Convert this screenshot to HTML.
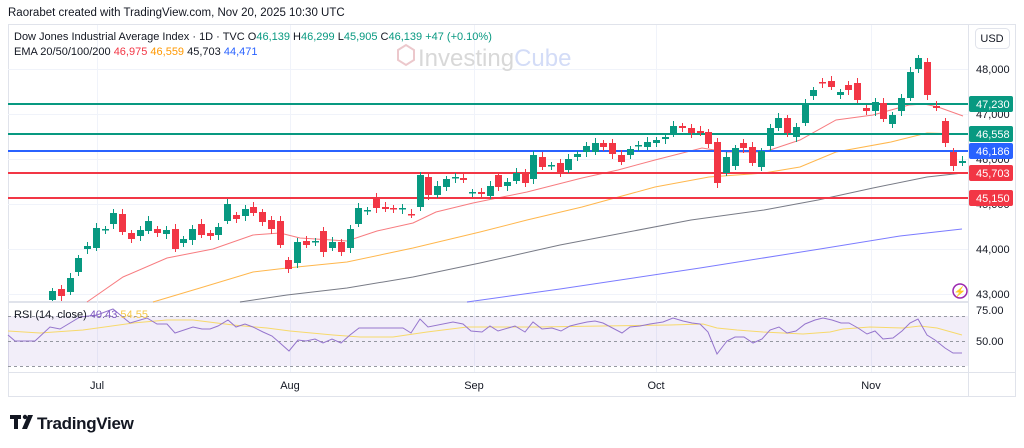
<!DOCTYPE html>
<html><head><meta charset="utf-8"><style>
body{margin:0;background:#fff;width:1024px;height:448px;overflow:hidden;font-family:"Liberation Sans",sans-serif}
svg{position:absolute;left:0;top:0}
</style></head><body>
<svg id="s" width="1024" height="448" viewBox="0 0 1024 448" font-family="Liberation Sans, sans-serif">
<rect x="0" y="0" width="1024" height="448" fill="#fff"/>
<text x="8" y="16" font-size="11.5" fill="#131722">Raorabet created with TradingView.com, Nov 20, 2025 10:30 UTC</text>
<rect x="8.5" y="24.5" width="1007" height="372" fill="none" stroke="#e0e3eb"/>
<line x1="8" y1="302" x2="968" y2="302" stroke="#e0e3eb" stroke-width="2"/>
<line x1="968.5" y1="25" x2="968.5" y2="396" stroke="#e0e3eb"/>
<line x1="8" y1="372.5" x2="1016" y2="372.5" stroke="#e0e3eb"/>
<g id="grid" stroke="#f0f3fa"></g>
<rect x="8" y="316" width="960" height="50" fill="#7e57c2" fill-opacity="0.1"/>
<g stroke="#9598a1" stroke-dasharray="3,3" stroke-width="1">
<line x1="8" y1="316.5" x2="968" y2="316.5"/><line x1="8" y1="341.5" x2="968" y2="341.5"/><line x1="8" y1="366.5" x2="968" y2="366.5"/></g>
<polygon points="398,50 406,45 414,50 414,60 406,65 398,60" fill="none" stroke="#ecc8cc" stroke-width="2"/>
<text x="418" y="66" font-size="24" fill="#d8d8d8">Investing<tspan fill="#d3dcf7">Cube</tspan></text>
<g id="ema"></g>
<g id="hl" stroke-width="2">
<line x1="8" y1="104" x2="968" y2="104" stroke="#089981"/>
<line x1="8" y1="134" x2="968" y2="134" stroke="#089981"/>
<line x1="8" y1="151" x2="968" y2="151" stroke="#2962ff"/>
<line x1="8" y1="173" x2="968" y2="173" stroke="#f23645"/>
<line x1="8" y1="198" x2="968" y2="198" stroke="#f23645"/>
</g>
<g id="c"></g>
<g id="rsi" fill="none"></g>
<g font-size="11" fill="#131722">
<text x="14" y="40">Dow Jones Industrial Average Index · 1D · TVC <tspan>O</tspan><tspan fill="#089981">46,139</tspan> H<tspan fill="#089981">46,299</tspan> L<tspan fill="#089981">45,905</tspan> C<tspan fill="#089981">46,139</tspan> <tspan fill="#089981">+47 (+0.10%)</tspan></text>
<text x="14" y="55">EMA 20/50/100/200 <tspan fill="#f23645">46,975</tspan> <tspan fill="#ff9800">46,559</tspan> 45,703 <tspan fill="#2962ff">44,471</tspan></text>
<text x="14" y="318">RSI (14, close) <tspan fill="#7e57c2">40.43</tspan> <tspan fill="#f7c948">54.55</tspan></text>
</g>
<rect x="975.5" y="28.5" width="34" height="20" rx="4" fill="#fff" stroke="#e0e3eb"/>
<text x="992" y="42" font-size="11" fill="#131722" text-anchor="middle">USD</text>
<g font-size="11" fill="#131722" text-anchor="start">
<text x="976" y="73">48,000</text><text x="976" y="118">47,000</text><text x="976" y="163">46,000</text><text x="976" y="208">45,000</text><text x="976" y="253">44,000</text><text x="976" y="298">43,000</text>
<text x="976" y="314">75.00</text><text x="976" y="345">50.00</text>
</g>
<g font-size="11" fill="#fff">
<rect x="969" y="96" width="44" height="16" rx="2" fill="#089981"/><text x="976" y="108">47,230</text>
<rect x="969" y="126" width="44" height="16" rx="2" fill="#089981"/><text x="976" y="138">46,558</text>
<rect x="969" y="143" width="44" height="16" rx="2" fill="#2962ff"/><text x="976" y="155">46,186</text>
<rect x="969" y="165" width="44" height="16" rx="2" fill="#f23645"/><text x="976" y="177">45,703</text>
<rect x="969" y="190" width="44" height="16" rx="2" fill="#f23645"/><text x="976" y="202">45,150</text>
</g>
<circle cx="960" cy="291" r="7" fill="none" stroke="#9c27b0" stroke-width="1.5"/>
<text x="960" y="295" font-size="10" fill="#9c27b0" text-anchor="middle">⚡</text>
<g font-size="11" fill="#131722" text-anchor="middle">
<text x="97" y="389">Jul</text><text x="290" y="389">Aug</text><text x="474" y="389">Sep</text><text x="656" y="389">Oct</text><text x="871" y="389">Nov</text></g>
<rect x="10" y="415" width="11" height="4" fill="#131722"/><rect x="14" y="415" width="4" height="14" fill="#131722"/><circle cx="25" cy="417" r="2.2" fill="#131722"/><polygon points="28,415 33,415 27,429 22,429" fill="#131722"/>
<text x="37" y="429" font-size="17" fill="#131722" font-weight="bold" letter-spacing="-0.3">TradingView</text>
</svg>
<script>
const NS="http://www.w3.org/2000/svg";
function el(p,t,a){const e=document.createElementNS(NS,t);for(const k in a)e.setAttribute(k,a[k]);p.appendChild(e);return e}
const g=document.getElementById('grid');
[69,114,159,204,249,294].forEach(y=>el(g,'line',{x1:8,x2:968,y1:y+.5,y2:y+.5}));
[97,290,474,656,871].forEach(x=>el(g,'line',{x1:x+.5,x2:x+.5,y1:25,y2:372}));
const C=[[291,300,1],[289,296,0],[278,292,1],[258,272,1],[246,249,1],[228,248,1],[229,230,1],[213,224,1],[214,232,0],[233,239,0],[230,236,1],[221,231,1],[229,233,0],[230,234,1],[229,249,0],[239,243,1],[229,240,1],[224,235,0],[233,236,0],[227,235,1],[204,221,1],[215,219,0],[209,216,1],[207,213,0],[212,222,0],[220,229,0],[221,245,0],[260,269,0],[242,263,1],[241,245,0],[241,242,1],[231,252,0],[242,248,1],[242,252,0],[229,248,1],[208,224,1],[210,211,1],[197,208,0],[207,209,0],[208,209,0],[208,209,1],[214,215,0],[175,207,1],
[177,195,0],[186,195,1],[179,187,1],[177,178,1],[178,180,0],[192,193,1],[192,194,0],[186,196,1],[175,187,0],[182,186,1],[173,181,1],[172,183,0],[155,179,1],[157,167,0],[165,166,1],[163,172,0],[159,170,1],[154,157,1],[146,152,1],[143,152,1],[143,147,0],[143,154,0],[155,162,0],[149,155,1],[145,146,1],[142,147,1],[140,143,1],[137,139,1],[126,134,1],[126,128,0],[128,133,0],[131,133,0],[132,144,0],[142,183,0],[157,173,1],[148,166,1],[143,148,0],[147,163,0],[151,167,1],[128,146,1],[118,128,1],[118,133,0],[127,137,1],[104,123,1],[90,96,1],[82,83,0],[81,87,0],[92,95,1],[85,90,0],[83,100,0],[108,111,0],[102,111,1],[103,119,0],[115,124,1],[98,111,1],[72,98,1],[58,69,1],[62,95,0],[106,108,0],[121,143,0],[152,166,0],[161,163,1]];
const cg=document.getElementById('c');
const n=C.length, x0=52, dx=(962-52)/(n-1);
C.forEach((c,i)=>{const x=Math.round(x0+i*dx)+0.5, col=c[2]?'#089981':'#f23645';
 const hi=c[0]-3-(i%3), lo=c[1]+3+((i+1)%3);
 if(hi<302){el(cg,'line',{x1:x,x2:x,y1:hi,y2:Math.min(lo,301),stroke:col,'stroke-width':1});
 el(cg,'rect',{x:x-3.5,y:c[0],width:7,height:Math.max(1.5,Math.min(c[1],301)-c[0]),fill:col});}
});
function pl(p,pts,col,w){el(p,'polyline',{points:pts.map(a=>a.join(',')).join(' '),fill:'none',stroke:col,'stroke-width':w||1})}
const e=document.getElementById('ema');
pl(e,[[87,302],[123,277],[167,258],[213,249],[253,235],[280,233],[300,238],[347,241],[377,231],[413,223],[436,212],[473,203],[527,192],[582,178],[618,170],[655,160],[702,148],[727,152],[764,152],[800,140],[836,120],[873,115],[909,105],[924,104],[938,107],[963,116]],'#f77c80');
pl(e,[[153,302],[200,288],[253,272],[287,268],[347,262],[413,248],[480,232],[527,220],[582,207],[655,187],[709,177],[764,173],[800,167],[836,152],[891,142],[927,133],[963,134]],'#ffb74d');
pl(e,[[240,302],[287,295],[347,288],[413,277],[480,263],[560,245],[691,220],[764,210],[818,200],[873,188],[927,177],[963,173]],'#787b86');
pl(e,[[467,302],[560,289],[700,268],[820,249],[900,236],[962,229]],'#7b7bff');
const r=document.getElementById('rsi');
pl(r,[[8,331],[40,333],[83,330],[133,323],[167,320],[193,320],[233,325],[267,328],[290,331],[333,335],[360,337],[393,337],[427,332],[467,327],[537,327],[603,326],[670,325],[703,324],[717,328],[737,330],[763,332],[803,334],[830,332],[843,329],[870,327],[903,328],[920,326],[937,328],[962,335]],'#f7d96b');
pl(r,[[8,335],[15,341],[35,341],[50,327],[60,329],[80,317],[97,315],[113,309],[130,323],[147,318],[157,324],[167,324],[175,333],[193,327],[202,329],[210,329],[218,326],[228,320],[236,327],[245,324],[253,327],[263,332],[272,336],[280,343],[289,351],[298,340],[306,341],[315,339],[323,343],[332,339],[341,343],[350,335],[359,328],[376,328],[403,328],[411,333],[420,319],[428,327],[453,322],[463,324],[471,331],[482,332],[490,326],[498,331],[515,326],[525,332],[533,322],[542,329],[552,328],[561,331],[570,326],[578,324],[587,322],[595,321],[603,323],[622,333],[630,327],[640,326],[650,324],[663,322],[673,318],[683,321],[692,323],[700,324],[708,332],[717,354],[727,341],[735,337],[744,337],[753,343],[762,339],[770,330],[779,327],[787,333],[796,331],[805,324],[815,320],[823,318],[832,320],[841,323],[849,323],[858,328],[867,334],[875,331],[883,339],[893,338],[902,331],[910,323],[918,319],[927,335],[935,340],[945,348],[953,353],[962,353]],'#9575cd');
</script>
</body></html>
